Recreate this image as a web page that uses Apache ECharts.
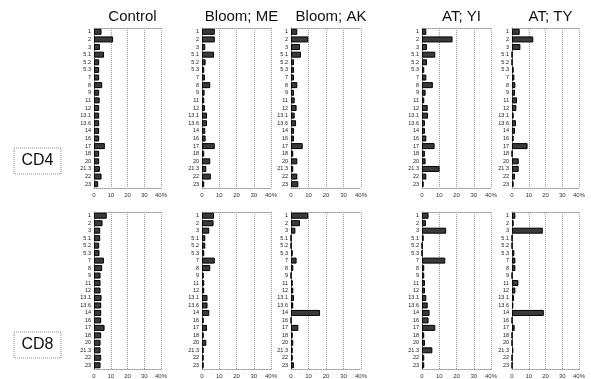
<!DOCTYPE html>
<html>
<head>
<meta charset="utf-8">
<script src="https://cdn.jsdelivr.net/npm/echarts@6/dist/echarts.min.js"></script>
<style>
  html, body { margin: 0; padding: 0; background: #fff; }
  #chart { width: 591px; height: 379px; }
</style>
</head>
<body>
<div id="chart"></div>
<script>
// categories (gene families) shared by every panel
const categories = ['1', '2', '3', '5.1', '5.2', '5.3', '7', '8', '9', '11', '12',
  '13.1', '13.6', '14', '16', '17', '18', '20', '21.3', '22', '23']
const panelTitles = ['Control', 'Bloom; ME', 'Bloom; AK', 'AT; YI', 'AT; TY']
const rowLabels = ['CD4', 'CD8']
const tickValues = [0, 10, 20, 30, 40]

// CD4 row (% of cells)
const cd4Control = [4.5, 11.4, 3.5, 6.0, 3.1, 3.1, 3.1, 4.9, 3.1, 3.4, 3.1, 3.1, 3.1, 3.1, 3.1, 6.5, 3.1, 3.1, 3.5, 4.5, 2.5]
const cd4BloomME = [7.4, 7.4, 1.9, 7.0, 2.1, 1.3, 1.7, 4.8, 1.5, 1.3, 1.7, 2.9, 2.9, 1.9, 2.1, 7.4, 1.3, 4.8, 2.5, 5.1, 1.3]
const cd4BloomAK = [3.6, 9.9, 5.1, 5.7, 1.7, 1.7, 1.7, 3.6, 1.7, 2.1, 3.2, 2.1, 2.9, 1.7, 1.7, 6.7, 1.3, 3.6, 1.3, 3.6, 4.2]
const cd4AtYI = [2.5, 17.7, 2.9, 7.7, 2.9, 1.3, 2.5, 6.3, 2.1, 1.3, 3.3, 3.5, 1.7, 1.7, 2.5, 7.3, 1.7, 2.1, 10.2, 2.5, 1.0]
const cd4AtTY = [4.6, 12.7, 5.0, 0, 0, 1.0, 1.4, 2.0, 1.8, 3.0, 2.6, 1.0, 2.4, 1.8, 1.0, 9.3, 0, 4.0, 4.0, 1.8, 1.0]

// CD8 row (% of cells)
const cd8Control = [7.6, 5.1, 3.7, 3.7, 3.1, 3.3, 5.9, 4.9, 3.9, 3.9, 3.9, 4.5, 4.3, 4.3, 4.3, 6.3, 4.3, 3.9, 3.9, 4.3, 3.9]
const cd8BloomME = [7.0, 6.7, 4.2, 1.9, 1.9, 1.3, 7.4, 4.8, 1.0, 1.3, 1.3, 3.2, 3.2, 4.2, 1.0, 2.9, 1.0, 2.5, 1.0, 1.0, 1.0]
const cd8BloomAK = [9.9, 5.1, 2.5, 0, 0, 1.0, 3.2, 1.3, 0, 1.0, 1.3, 1.7, 1.3, 16.6, 0, 4.2, 1.0, 1.3, 1.0, 1.0, 1.7]
const cd8AtYI = [3.8, 2.3, 14.0, 1.0, 0, 0, 13.5, 1.3, 1.3, 1.7, 1.7, 2.5, 3.3, 4.4, 3.8, 7.7, 1.3, 1.7, 6.0, 1.3, 1.3]
const cd8AtTY = [2.0, 1.0, 18.4, 0, 0, 1.4, 2.0, 2.0, 0, 3.8, 2.0, 1.2, 0.8, 19.0, 0, 1.6, 0, 0, 0.8, 0, 0]

const rows = [
  [cd4Control, cd4BloomME, cd4BloomAK, cd4AtYI, cd4AtTY],
  [cd8Control, cd8BloomME, cd8BloomAK, cd8AtYI, cd8AtTY]
]

// panel boxes in pixels
const colLeft = [94, 202, 291, 422, 512]
const colWidth = [67, 69, 70, 69, 67]
const rowTop = [28, 212]
const rowHeight = 160

const chart = echarts.init(document.getElementById('chart'), null, { renderer: 'canvas' })

const grids = []
const xAxes = []
const yAxes = []
const series = []
const dotted = { color: '#999', type: [1, 1], width: 1 }

rows.forEach((panels, r) => {
  panels.forEach((values, c) => {
    const gi = grids.length
    grids.push({
      left: colLeft[c],
      top: rowTop[r],
      width: colWidth[c],
      height: rowHeight
    })
    // bottom axis with ticks
    xAxes.push({
      type: 'value',
      gridIndex: gi,
      min: 0,
      max: 40,
      interval: 10,
      axisLine: { show: true, lineStyle: dotted },
      axisTick: { show: false },
      splitLine: { show: true, lineStyle: dotted },
      axisLabel: {
        fontSize: 6,
        color: '#333',
        margin: 4,
        fontFamily: 'Liberation Sans',
        formatter: v => (v === 40 ? '40%' : String(v))
      }
    })
    // top edge of the box
    xAxes.push({
      type: 'value',
      gridIndex: gi,
      position: 'top',
      min: 0,
      max: 40,
      interval: 10,
      axisLine: { show: true, lineStyle: dotted },
      axisTick: { show: false },
      axisLabel: { show: false },
      splitLine: { show: false }
    })
    yAxes.push({
      type: 'category',
      gridIndex: gi,
      data: categories,
      inverse: true,
      axisLine: { show: true, lineStyle: { color: '#555', type: [1, 1] } },
      axisTick: { show: false },
      axisLabel: {
        fontSize: 5.5,
        color: '#222',
        margin: 3,
        interval: 0,
        fontFamily: 'Liberation Sans'
      }
    })
    series.push({
      type: 'bar',
      name: rowLabels[r] + ' ' + panelTitles[c],
      xAxisIndex: gi * 2,
      yAxisIndex: gi,
      data: values,
      barWidth: 6,
      itemStyle: {
        color: '#3a3a3a',
        borderColor: '#000',
        borderWidth: 1
      },
      silent: true
    })
  })
})

// column titles and row labels
const titles = panelTitles.map((t, c) => ({
  text: t,
  left: colLeft[c] + colWidth[c] / 2,
  top: 4,
  textAlign: 'center',
  textStyle: { fontSize: 15, fontWeight: 'normal', color: '#111', fontFamily: 'Liberation Sans' }
}))

const rowBoxCenter = [161, 345]
const graphics = []
rowLabels.forEach((lab, r) => {
  graphics.push({
    type: 'rect',
    shape: { x: 14, y: rowBoxCenter[r] - 13, width: 47, height: 26 },
    style: { fill: 'none', stroke: '#888', lineWidth: 1, lineDash: [1, 1] }
  })
  graphics.push({
    type: 'text',
    x: 37.5,
    y: rowBoxCenter[r],
    style: {
      text: lab,
      fontSize: 16,
      fontFamily: 'Liberation Sans',
      fill: '#111',
      align: 'center',
      verticalAlign: 'middle'
    }
  })
})

chart.setOption({
  backgroundColor: '#fff',
  animation: false,
  title: titles,
  grid: grids,
  xAxis: xAxes,
  yAxis: yAxes,
  series: series,
  graphic: graphics
})
</script>
</body>
</html>
